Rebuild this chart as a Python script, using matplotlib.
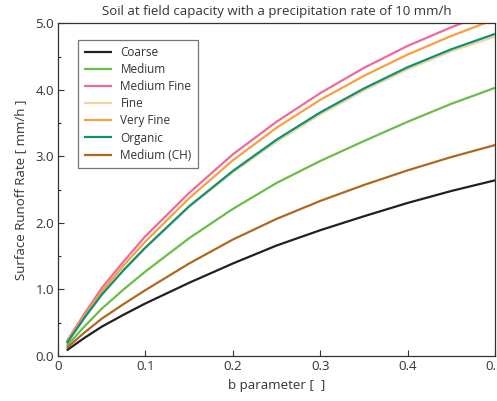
import matplotlib
matplotlib.use("Agg")
import matplotlib.pyplot as plt
from matplotlib.ticker import MultipleLocator, FixedLocator, FormatStrFormatter

plt.rcParams['font.family'] = ['Open Sans', 'DejaVu Sans']

b = [0.01, 0.03, 0.05, 0.075, 0.10, 0.15, 0.20, 0.25, 0.30, 0.35, 0.40, 0.45, 0.50]

coarse      = [0.085, 0.27, 0.44, 0.62, 0.79, 1.10, 1.39, 1.66, 1.89, 2.10, 2.30, 2.48, 2.64]
medium      = [0.15, 0.44, 0.71, 1.00, 1.27, 1.77, 2.21, 2.60, 2.93, 3.23, 3.52, 3.79, 4.03]
medium_fine = [0.22, 0.63, 1.02, 1.42, 1.80, 2.45, 3.03, 3.52, 3.95, 4.33, 4.66, 4.94, 5.19]
fine        = [0.20, 0.57, 0.93, 1.29, 1.62, 2.24, 2.76, 3.22, 3.63, 3.99, 4.31, 4.58, 4.80]
very_fine   = [0.21, 0.60, 0.97, 1.36, 1.72, 2.37, 2.94, 3.43, 3.85, 4.21, 4.53, 4.81, 5.06]
organic     = [0.19, 0.57, 0.92, 1.29, 1.63, 2.25, 2.78, 3.25, 3.66, 4.02, 4.34, 4.61, 4.84]
medium_ch   = [0.12, 0.35, 0.56, 0.78, 0.99, 1.39, 1.75, 2.06, 2.33, 2.57, 2.79, 2.99, 3.17]

series = [
    ("Coarse", coarse, "#231f20"),
    ("Medium", medium, "#6abd45"),
    ("Medium Fine", medium_fine, "#ec6a9c"),
    ("Fine", fine, "#efd5a0"),
    ("Very Fine", very_fine, "#f7a040"),
    ("Organic", organic, "#0f9173"),
    ("Medium (CH)", medium_ch, "#b0681e"),
]

fig = plt.figure(figsize=(4.97, 4.01), dpi=100)
ax = fig.add_axes([58/497, 45/401, 437/497, 332.7/401])

for name, vals, col in series:
    ax.plot(b, vals, color=col, lw=1.6, label=name, solid_capstyle='butt',
            solid_joinstyle='round')

ax.set_xlim(0, 0.5)
ax.set_ylim(0, 5.0)
ax.xaxis.set_major_locator(FixedLocator([0, 0.1, 0.2, 0.3, 0.4, 0.5]))
ax.set_xticklabels(["0", "0.1", "0.2", "0.3", "0.4", "0.5"])
ax.yaxis.set_major_locator(MultipleLocator(1.0))
ax.yaxis.set_minor_locator(MultipleLocator(0.5))
ax.yaxis.set_major_formatter(FormatStrFormatter('%.1f'))
ax.tick_params(axis='both', which='major', direction='in', length=4, width=0.8,
               labelsize=9.5, colors='#333333', pad=3)
ax.tick_params(axis='y', which='minor', direction='in', length=2.5, width=0.8, colors='#333333')
for sp in ax.spines.values():
    sp.set_color('#333333')
    sp.set_linewidth(0.9)

ax.set_title("Soil at field capacity with a precipitation rate of 10 mm/h",
             fontsize=9.5, color='#333333', pad=6)
ax.set_xlabel("b parameter [  ]", fontsize=9.5, color='#333333', labelpad=4)
ax.set_ylabel("Surface Runoff Rate [ mm/h ]", fontsize=9.5, color='#333333', labelpad=6)

leg = ax.legend(loc='upper left', bbox_to_anchor=(20/437, 1 - 16.7/332.7),
                fontsize=8.5, frameon=True, fancybox=False, handlelength=2.4,
                handletextpad=0.7, labelspacing=0.35, borderpad=0.5, borderaxespad=0)
leg.get_frame().set_edgecolor('#555555')
leg.get_frame().set_linewidth(0.9)
for t in leg.get_texts():
    t.set_color('#333333')

fig.savefig("out.png", dpi=100)
